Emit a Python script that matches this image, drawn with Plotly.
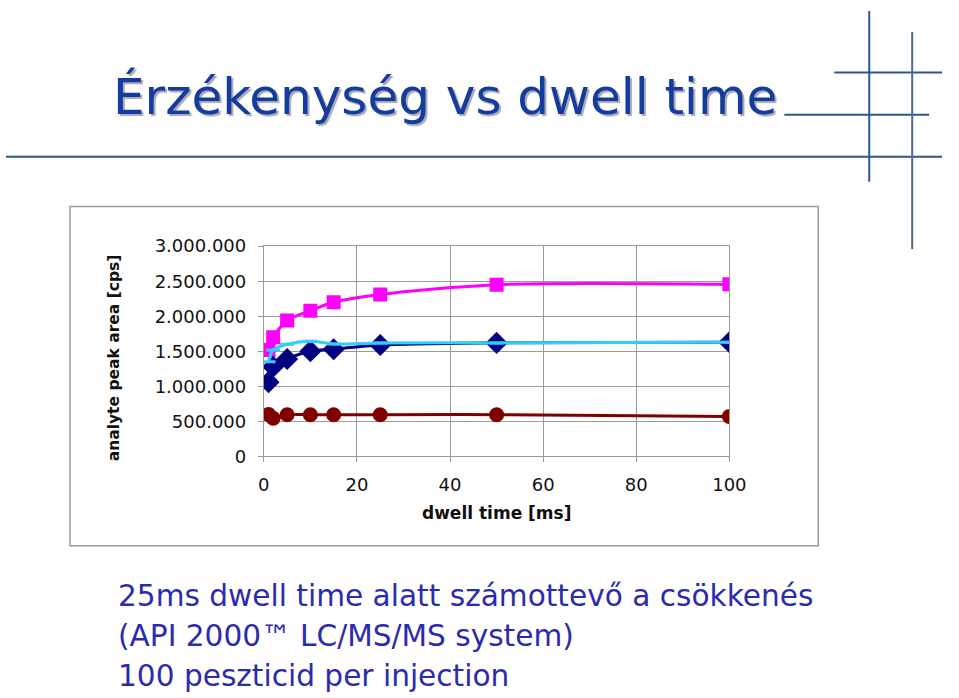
import plotly.graph_objects as go

# ---------------- data ----------------
dwell_ms = [1, 2, 5, 10, 15, 25, 50, 100]
series_magenta = [1520000, 1700000, 1940000, 2080000, 2200000, 2310000, 2450000, 2455000]
series_navy = [1060000, 1280000, 1390000, 1500000, 1530000, 1590000, 1620000, 1630000]
series_cyan = [1350000, 1520000, 1600000, 1645000, 1605000, 1620000, 1620000, 1630000]
series_darkred = [600000, 545000, 596000, 596000, 596000, 596000, 596000, 570000]

y_tickvals = [0, 500000, 1000000, 1500000, 2000000, 2500000, 3000000]
y_ticktext = ["0", "500.000", "1.000.000", "1.500.000", "2.000.000", "2.500.000", "3.000.000"]
x_tickvals = [0, 20, 40, 60, 80, 100]

title_text = "Érzékenység vs dwell time"
x_title = "dwell time [ms]"
y_title = "analyte peak area [cps]"
bottom_lines = [
    "25ms dwell time alatt számottevő a csökkenés",
    "(API 2000™ LC/MS/MS system)",
    "100 peszticid per injection",
]

W, H = 959, 698
FONT = "DejaVu Sans"

# the page is photographed with a small offset and scale; these helpers map
# a target pixel position in the final picture to paper coordinates.
SX, OX = 0.977, 4.9
SY, OY = 0.9776, 8.0


def fx(p):
    return ((p - OX) / SX) / W


def fy(p):
    return 1 - ((p - OY) / SY) / H


def clip(v):
    return max(0.0, min(1.0, v))


fig = go.Figure()

fig.add_trace(go.Scatter(
    x=dwell_ms, y=series_darkred, mode="lines+markers",
    line=dict(color="#800000", width=3, shape="spline", smoothing=0.9),
    marker=dict(symbol="circle", size=15, color="#800000"),
))
fig.add_trace(go.Scatter(
    x=dwell_ms, y=series_magenta, mode="lines+markers",
    line=dict(color="#FF00FF", width=3, shape="spline", smoothing=0.8),
    marker=dict(symbol="square", size=14, color="#FF00FF"),
))
fig.add_trace(go.Scatter(
    x=dwell_ms, y=series_navy, mode="lines+markers",
    line=dict(color="#000080", width=3, shape="spline", smoothing=0.8),
    marker=dict(symbol="diamond", size=17, color="#000080"),
))
fig.add_trace(go.Scatter(
    x=dwell_ms, y=series_cyan, mode="lines+markers",
    line=dict(color="#33CCFF", width=3, shape="spline", smoothing=0.8),
    marker=dict(symbol="line-ew", size=10, line=dict(color="#33CCFF", width=3)),
))

axis_font = dict(family=FONT, size=18, color="#111111")

fig.update_xaxes(
    domain=[fx(263), fx(729)], range=[0, 100],
    tickvals=x_tickvals, ticks="outside", ticklen=5, tickcolor="#999999",
    showgrid=True, gridcolor="#9a9a9a", gridwidth=1,
    showline=True, linecolor="#999999", linewidth=1, mirror=True,
    zeroline=False, tickfont=axis_font, ticklabelstandoff=7,
)
fig.update_yaxes(
    domain=[fy(457), fy(245)], range=[0, 3000000],
    tickvals=y_tickvals, ticktext=y_ticktext, ticks="outside", ticklen=5,
    tickcolor="#999999",
    showgrid=True, gridcolor="#9a9a9a", gridwidth=1,
    showline=True, linecolor="#999999", linewidth=1, mirror=True,
    zeroline=False, tickfont=axis_font, ticklabelstandoff=8,
)

shapes = [
    # chart box
    dict(type="rect", xref="paper", yref="paper", x0=fx(69), x1=fx(818), y0=fy(547), y1=fy(205),
         line=dict(color="#9a9a9a", width=1.5), layer="below"),
    # decorative lines
    dict(type="line", xref="paper", yref="paper", x0=clip(fx(0)), x1=clip(fx(954)), y0=fy(155), y1=fy(155),
         line=dict(color="#2E5597", width=2)),
    dict(type="line", xref="paper", yref="paper", x0=fx(784), x1=fx(929), y0=fy(112.5), y1=fy(112.5),
         line=dict(color="#2E5597", width=2)),
    dict(type="line", xref="paper", yref="paper", x0=fx(834), x1=clip(fx(955)), y0=fy(70), y1=fy(70),
         line=dict(color="#2E5597", width=2)),
    dict(type="line", xref="paper", yref="paper", x0=fx(869), x1=fx(869), y0=clip(fy(3)), y1=fy(180),
         line=dict(color="#2E5597", width=2)),
    dict(type="line", xref="paper", yref="paper", x0=fx(912), x1=fx(912), y0=fy(29), y1=fy(248),
         line=dict(color="#4D6A8C", width=2)),
]

annotations = [
    dict(text=title_text, x=fx(110), y=fy(94), xref="paper", yref="paper",
         xanchor="left", yanchor="middle", showarrow=False,
         font=dict(family=FONT, size=50, color="#133C9E",
                   shadow="2px 2px 1px #a8a8b4")),
    # axis titles
    dict(text="<b>" + y_title + "</b>", x=fx(113), y=fy(357), xref="paper", yref="paper",
         xanchor="center", yanchor="middle", showarrow=False, textangle=-90,
         font=dict(family=FONT, size=15.5, color="#111111")),
    dict(text="<b>" + x_title + "</b>", x=fx(496), y=fy(514), xref="paper", yref="paper",
         xanchor="center", yanchor="middle", showarrow=False,
         font=dict(family=FONT, size=17, color="#111111")),
]
for i, line in enumerate(bottom_lines):
    annotations.append(dict(
        text=line, x=fx(115), y=fy(598 + 40 * i), xref="paper", yref="paper",
        xanchor="left", yanchor="middle", showarrow=False,
        font=dict(family=FONT, size=29.6, color="#2B2BAE"),
    ))

fig.update_layout(
    width=W, height=H,
    margin=dict(l=0, r=0, t=0, b=0),
    paper_bgcolor="white", plot_bgcolor="white",
    showlegend=False,
    shapes=shapes, annotations=annotations,
)

fig.write_html("out.html")
